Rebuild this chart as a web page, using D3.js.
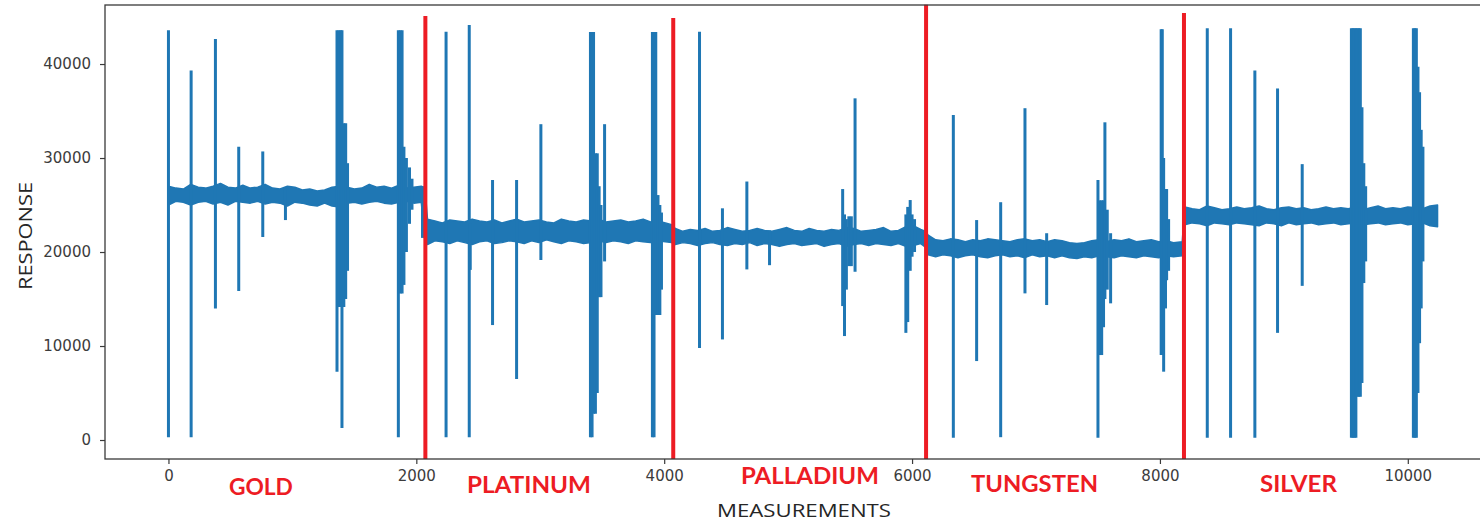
<!DOCTYPE html>
<html>
<head>
<meta charset="utf-8">
<script src="https://cdn.jsdelivr.net/npm/d3@7"></script>
<style>
  body { margin: 0; background: #fff; }
  svg { display: block; }
</style>
</head>
<body>
<svg id="chart" width="1480" height="522"></svg>
<script>
// ---- data ----
var xTicks = [0, 2000, 4000, 6000, 8000, 10000];
var yTicks = [0, 10000, 20000, 30000, 40000];

var metals = ["GOLD", "PLATINUM", "PALLADIUM", "TUNGSTEN", "SILVER"];
// measurement where the red divider was drawn, and where its top ends (response units)
var dividerAt = [2073, 4073, 6113, 8194];
var dividerTop = [45100, 44900, 46300, 45430];

// noisy baseline, kept as [measurement, low, high] envelope
var goldBand = [
  [0, 25000, 27000], [60, 25400, 26800], [120, 25300, 26700], [180, 25000, 27200],
  [240, 25300, 26900], [300, 25400, 26800], [360, 25100, 27000], [420, 25300, 27300],
  [480, 25000, 26900], [540, 25400, 26800], [600, 25300, 27100], [660, 25200, 26800],
  [720, 25400, 26900], [780, 25100, 27200], [840, 25300, 26800], [900, 25200, 26700],
  [960, 24900, 27000], [1020, 25300, 26900], [1080, 25200, 26600], [1140, 25000, 26700],
  [1200, 24900, 26500], [1260, 25200, 26600], [1320, 24900, 26900], [1380, 24800, 27000],
  [1440, 25200, 26900], [1500, 25300, 26700], [1560, 25100, 26800], [1620, 25300, 27200],
  [1680, 25400, 26900], [1740, 25200, 27000], [1800, 25100, 26800], [1860, 25300, 27100],
  [1920, 25400, 26800], [1980, 25200, 26900], [2040, 25300, 27000], [2070, 21000, 26800]
];
var platinumBand = [
  [2090, 20800, 23500], [2150, 21200, 23300], [2210, 21100, 23100], [2270, 20900, 23400],
  [2330, 21200, 23300], [2390, 21000, 23200], [2450, 20800, 23500], [2510, 21100, 23300],
  [2570, 21200, 23200], [2630, 20900, 23400], [2690, 21000, 23100], [2750, 21200, 23300],
  [2810, 21100, 23500], [2870, 20900, 23200], [2930, 21200, 23300], [2990, 21000, 23400],
  [3050, 21300, 23200], [3110, 21100, 23100], [3170, 20900, 23500], [3230, 21200, 23300],
  [3290, 21100, 23200], [3350, 20900, 23400], [3410, 21000, 23300], [3470, 21200, 23500],
  [3530, 21000, 23200], [3590, 21200, 23300], [3650, 21100, 23400], [3710, 20900, 23200],
  [3770, 21200, 23300], [3830, 21100, 23500], [3890, 21000, 23200], [3950, 21200, 23300],
  [4010, 21100, 23100], [4060, 21000, 22900]
];
var palladiumBand = [
  [4090, 20800, 22500], [4150, 21000, 22200], [4210, 20900, 22400], [4270, 20700, 22300],
  [4330, 20900, 22500], [4390, 21000, 22200], [4450, 20800, 22300], [4510, 20700, 22600],
  [4570, 20900, 22400], [4630, 20800, 22200], [4690, 21000, 22300], [4750, 20700, 22500],
  [4810, 20900, 22300], [4870, 20800, 22200], [4930, 20600, 22400], [4990, 20800, 22600],
  [5050, 20900, 22300], [5110, 20700, 22200], [5170, 20800, 22500], [5230, 20900, 22300],
  [5290, 20600, 22200], [5350, 20800, 22400], [5410, 20900, 22300], [5470, 20600, 22600],
  [5530, 20800, 22500], [5590, 20900, 22200], [5650, 20700, 22300], [5710, 20900, 22400],
  [5770, 20800, 22600], [5830, 20700, 22200], [5890, 20900, 22300], [5950, 20600, 22700],
  [6010, 20700, 22800], [6070, 20900, 22400], [6110, 20500, 22200]
];
var tungstenBand = [
  [6130, 19700, 21800], [6190, 19500, 21300], [6250, 19700, 21200], [6310, 19600, 21400],
  [6370, 19400, 21300], [6430, 19600, 21100], [6490, 19700, 21300], [6550, 19500, 21200],
  [6610, 19400, 21400], [6670, 19600, 21300], [6730, 19700, 21200], [6790, 19500, 21100],
  [6850, 19600, 21300], [6910, 19400, 21400], [6970, 19700, 21200], [7030, 19500, 21300],
  [7090, 19600, 21100], [7150, 19400, 21300], [7210, 19600, 21200], [7270, 19400, 21000],
  [7330, 19300, 20900], [7390, 19500, 21000], [7450, 19400, 21200], [7510, 19600, 21300],
  [7570, 19500, 21100], [7630, 19400, 21300], [7690, 19600, 21200], [7750, 19500, 21400],
  [7810, 19400, 21100], [7870, 19600, 21200], [7930, 19500, 21300], [7990, 19400, 21100],
  [8050, 19600, 21200], [8110, 19500, 21000], [8180, 19600, 21100]
];
var silverBand = [
  [8200, 22900, 24800], [8260, 23100, 24600], [8320, 23000, 24500], [8380, 22800, 24900],
  [8440, 23100, 24700], [8500, 23000, 24500], [8560, 22900, 24600], [8620, 23100, 24800],
  [8680, 23000, 24600], [8740, 22900, 24700], [8800, 22800, 24900], [8860, 23100, 24600],
  [8920, 23000, 24500], [8980, 22800, 24700], [9040, 23100, 24800], [9100, 22900, 24600],
  [9160, 23000, 24700], [9220, 23100, 24500], [9280, 22900, 24600], [9340, 23000, 24800],
  [9400, 23100, 24600], [9460, 22900, 24700], [9520, 23000, 24600], [9580, 23100, 24800],
  [9640, 22900, 24500], [9700, 23000, 24700], [9760, 23100, 24900], [9820, 22900, 24600],
  [9880, 23000, 24700], [9940, 23100, 24600], [10000, 22900, 24800], [10060, 23000, 24700],
  [10120, 23100, 24600], [10180, 22800, 24900], [10240, 22700, 25000]
];

// spikes: [measurement, lowest, highest]
var goldSpikes = [
  [0, 300, 43600], [183, 300, 39300], [379, 14000, 42650], [567, 15850, 31200],
  [761, 21600, 30700], [944, 23400, 26900],
  [1360, 7270, 43600], [1375, 14150, 43600], [1390, 14150, 43600], [1400, 1280, 43600],
  [1415, 14150, 33700], [1430, 15000, 33700], [1445, 18000, 29450],
  [1855, 300, 43600], [1870, 15600, 43600], [1885, 15600, 43600], [1900, 16500, 31200],
  [1920, 20000, 30000], [1945, 23000, 29000], [1965, 24500, 27800]
];
var platinumSpikes = [
  [2050, 21500, 27000], [2240, 300, 43440], [2427, 300, 44150], [2435, 18100, 23000],
  [2615, 12230, 27660], [2809, 6490, 27660], [3005, 19150, 33600],
  [3405, 300, 43400], [3418, 300, 43400], [3430, 2800, 43400], [3445, 2800, 30500],
  [3460, 5000, 30500], [3475, 15200, 27000], [3490, 15200, 25000], [3519, 19000, 33600],
  [3905, 300, 43400], [3918, 300, 43400], [3932, 13300, 43400], [3950, 13300, 26060],
  [3965, 13300, 25000], [3978, 16000, 24200]
];
var palladiumSpikes = [
  [4285, 9790, 43440], [4470, 10700, 24650], [4667, 18150, 27500], [4850, 18600, 22300],
  [5440, 14250, 26700], [5455, 11060, 24000], [5470, 16000, 23500], [5490, 18500, 23800],
  [5510, 18500, 23800], [5540, 17900, 36350],
  [5950, 11400, 24000], [5965, 12550, 24800], [5985, 18000, 25530], [6000, 19500, 24000],
  [6020, 20000, 23500]
];
var tungstenSpikes = [
  [6333, 250, 34570], [6521, 8400, 23400], [6715, 300, 25300], [6911, 15600, 35300],
  [7086, 14360, 22000],
  [7500, 250, 27660], [7515, 9040, 25500], [7530, 9040, 25500], [7545, 12000, 25500],
  [7556, 15000, 33800], [7575, 16000, 24500], [7602, 14540, 22000],
  [8010, 9040, 43690], [8019, 9040, 43690], [8030, 7270, 30000], [8045, 14000, 26700],
  [8054, 17000, 26700], [8070, 18000, 23500]
];
var silverSpikes = [
  [8382, 250, 43800], [8570, 250, 43800], [8766, 250, 39300], [8949, 11400, 37400],
  [9148, 16400, 29350],
  [9545, 250, 43800], [9557, 250, 43800], [9569, 250, 43800], [9581, 250, 43800],
  [9593, 4600, 43800], [9605, 4600, 43800], [9617, 4600, 43800], [9630, 6060, 35400],
  [9645, 16700, 29450], [9660, 19000, 27000],
  [10045, 250, 43800], [10057, 250, 43800], [10069, 250, 43800], [10082, 5000, 39700],
  [10095, 10300, 37000], [10108, 14000, 33000], [10122, 19000, 31200]
];

// ---- layout ----
var W = 1480, H = 522;
var plot = { left: 105, right: 1501, top: 5, bottom: 459 };
var blue = "#1f77b4", red = "#ed1c24";
// label anchor (measurement units) and baseline pixel for each metal name
var labelAt = [[746, 495], [2909, 493], [5176, 484], [6988, 492], [9118, 492]];
var labelWidth = [64, 124, 138, 127, 77];

var svg = d3.select("#chart");

var x = d3.scaleLinear().domain([-512, 10752]).range([plot.left, plot.right]);
var y = d3.scaleLinear().domain([-2020, 46280]).range([plot.bottom, plot.top]);

var band = goldBand.concat(platinumBand, palladiumBand, tungstenBand, silverBand);
var spikes = goldSpikes.concat(platinumSpikes, palladiumSpikes, tungstenSpikes, silverSpikes);

// baseline noise
var area = d3.area()
  .x(function(d) { return x(d[0]); })
  .y0(function(d) { return y(d[1]); })
  .y1(function(d) { return y(d[2]); });

svg.append("path")
  .datum(band)
  .attr("d", area)
  .attr("fill", blue)
  .attr("stroke", blue)
  .attr("stroke-width", 1.5)
  .attr("stroke-linejoin", "round");

// spikes
var line = d3.line()
  .x(function(d) { return x(d[0]); })
  .y(function(d) { return y(d[1]); });

svg.append("g")
  .selectAll("path")
  .data(spikes)
  .enter().append("path")
  .attr("d", function(s) { return line([[s[0], s[1]], [s[0], s[2]]]); })
  .attr("stroke", blue)
  .attr("stroke-width", 3)
  .attr("fill", "none");

// red dividers between metals
svg.append("g")
  .selectAll("path")
  .data(dividerAt)
  .enter().append("path")
  .attr("d", function(d, i) { return line([[d, -2020], [d, dividerTop[i]]]); })
  .attr("stroke", red)
  .attr("stroke-width", 4)
  .attr("fill", "none");

// frame (right spine is off the picture)
svg.append("rect")
  .attr("x", plot.left)
  .attr("y", plot.top)
  .attr("width", plot.right - plot.left)
  .attr("height", plot.bottom - plot.top)
  .attr("fill", "none")
  .attr("stroke", "#3a3a3a")
  .attr("stroke-width", 1.3);

// axes
var xAxis = svg.append("g")
  .attr("transform", "translate(0," + plot.bottom + ")")
  .call(d3.axisBottom(x).tickValues(xTicks).tickSize(5).tickPadding(6).tickFormat(d3.format("d")));
var yAxis = svg.append("g")
  .attr("transform", "translate(" + plot.left + ",0)")
  .call(d3.axisLeft(y).tickValues(yTicks).tickSize(5).tickPadding(9).tickFormat(d3.format("d")));

[xAxis, yAxis].forEach(function(g) {
  g.select(".domain").remove();
  g.selectAll("line").attr("stroke", "#3a3a3a").attr("stroke-width", 1.2);
  g.selectAll("text")
    .attr("fill", "#3c3c3c")
    .style("font-family", "'DejaVu Sans', sans-serif")
    .style("font-size", "15px");
});

// metal names
svg.append("g")
  .selectAll("text")
  .data(metals)
  .enter().append("text")
  .attr("x", function(d, i) { return x(labelAt[i][0]); })
  .attr("y", function(d, i) { return labelAt[i][1]; })
  .attr("text-anchor", "middle")
  .attr("textLength", function(d, i) { return labelWidth[i]; })
  .attr("lengthAdjust", "spacingAndGlyphs")
  .attr("fill", red)
  .style("font-family", "Lato, 'Open Sans', sans-serif")
  .style("font-weight", "bold")
  .style("font-size", "23px")
  .text(function(d) { return d; });

// axis titles
svg.append("text")
  .attr("x", 804)
  .attr("y", 517)
  .attr("text-anchor", "middle")
  .attr("textLength", 174)
  .attr("lengthAdjust", "spacingAndGlyphs")
  .attr("fill", "#262626")
  .style("font-family", "'Open Sans', sans-serif")
  .style("font-size", "19px")
  .text("MEASUREMENTS");

svg.append("text")
  .attr("transform", "translate(32,236) rotate(-90)")
  .attr("text-anchor", "middle")
  .attr("textLength", 108)
  .attr("lengthAdjust", "spacingAndGlyphs")
  .attr("fill", "#262626")
  .style("font-family", "'Open Sans', sans-serif")
  .style("font-size", "19px")
  .text("RESPONSE");
</script>
</body>
</html>
